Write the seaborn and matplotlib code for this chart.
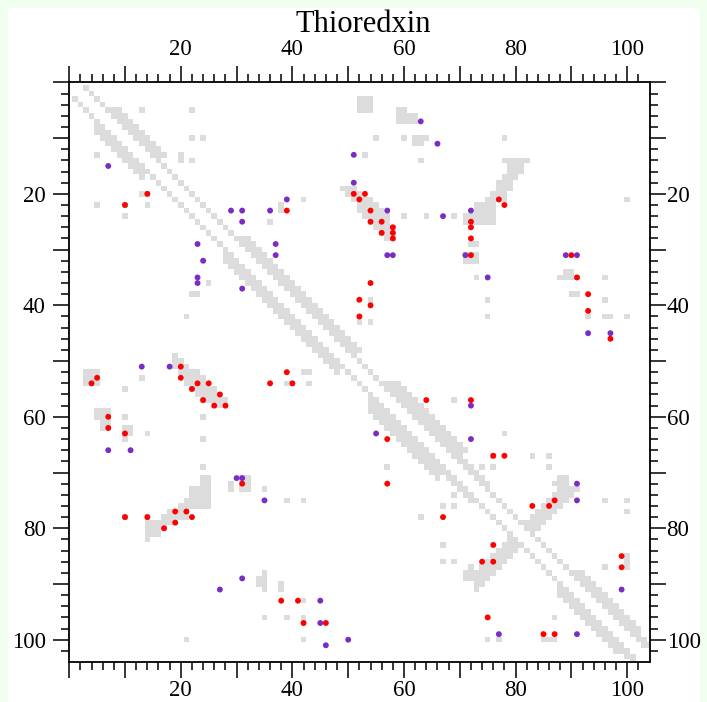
import numpy as np
import pandas as pd
import matplotlib
matplotlib.use("Agg")
import matplotlib.pyplot as plt
from matplotlib.colors import ListedColormap
from matplotlib.ticker import FixedLocator
import seaborn as sns

TITLE = "Thioredxin"
N_AXIS = 104                      # residue axis extent
TICK_LABELS = [20, 40, 60, 80, 100]

# near-diagonal band of the contact map: rows i0..i1 contact i+dmin .. i+dmax
band_i0 = [1, 5, 14, 28, 49, 54, 59, 67, 73, 88, 99]
band_i1 = [4, 13, 27, 48, 53, 58, 66, 72, 87, 98, 101]
band_dmin = [2, 2, 2, 2, 2, 2, 2, 2, 2, 2, 2]
band_dmax = [2, 4, 2, 4, 2, 5, 5, 3, 2, 4, 3]

# other observed contacts (upper triangle), residues i0..i1 x j0..j1
blk_i0 = [3, 5, 5, 10, 10, 13, 14, 13, 10, 5, 6, 10, 10, 11, 14, 22, 24, 24, 24, 25, 21,
          14, 15, 17, 18, 20, 21, 22, 24, 10, 21, 29, 31, 35, 39, 42, 34, 35, 38, 35, 39,
          42, 42, 42, 57, 63, 67, 67, 67, 69, 69, 69, 71, 73, 75, 75, 77, 85, 87, 39, 40,
          42, 43, 22, 23, 72]
blk_i1 = [5, 5, 5, 10, 10, 14, 14, 13, 10, 7, 7, 10, 10, 11, 14, 22, 24, 24, 24, 25, 21,
          14, 16, 17, 19, 20, 21, 23, 25, 10, 21, 29, 32, 35, 39, 42, 34, 35, 38, 35, 39,
          42, 42, 42, 57, 63, 67, 67, 67, 69, 69, 69, 71, 73, 75, 75, 77, 87, 87, 39, 40,
          43, 43, 22, 23, 72]
blk_j0 = [52, 13, 22, 22, 24, 20, 22, 53, 55, 59, 61, 60, 62, 62, 63, 55, 60, 64, 69, 36, 42,
          78, 79, 78, 77, 76, 75, 73, 71, 78, 100, 72, 71, 73, 75, 75, 89, 88, 90, 96, 96,
          93, 96, 100, 69, 78, 76, 83, 86, 74, 76, 86, 88, 89, 96, 100, 100, 100, 96, 54, 54,
          52, 54, 38, 38, 87]
blk_j1 = [54, 13, 22, 22, 24, 20, 22, 53, 55, 60, 62, 60, 64, 63, 63, 55, 60, 64, 69, 36, 42,
          82, 81, 80, 79, 78, 78, 76, 76, 78, 100, 73, 73, 73, 75, 75, 90, 91, 91, 96, 96,
          93, 97, 100, 69, 78, 76, 83, 86, 74, 76, 86, 89, 89, 96, 100, 100, 100, 96, 54, 54,
          52, 54, 38, 38, 89]

# parallel strand pairing (i, j = i+off) and antiparallel hairpin (i + j = s)
par_i = [19, 20, 21, 22, 23, 24, 25, 26, 27, 28]
par_off_lo = [30, 30, 30, 30, 29, 29, 29, 29, 29, 29]
par_off_hi = [32, 32, 33, 33, 33, 33, 32, 32, 31, 30]
anti_i = [73, 74, 75, 76, 77, 78, 79, 80, 81]
anti_s_lo = [161, 161, 161, 161, 161, 161, 161, 161, 161]
anti_s_hi = [164, 164, 164, 164, 164, 164, 164, 164, 164]

# predicted contacts
red_x = [14, 10, 51, 53, 52, 39, 54, 77, 78, 54, 56, 58, 56, 58, 58, 72, 72, 72, 72, 90, 91,
         93, 93, 97, 54, 52, 54, 52, 20, 5, 20, 4, 23, 25, 22, 27, 24, 26, 28, 7, 7, 10, 31,
         39, 36, 40, 64, 57, 57, 72, 76, 78, 10, 14, 17, 19, 21, 19, 22, 67, 38, 41, 42, 46,
         87, 83, 86, 76, 74, 76, 99, 99, 75, 85, 87]
red_y = [20, 22, 20, 20, 21, 23, 23, 21, 22, 25, 25, 26, 27, 27, 28, 25, 26, 28, 31, 31, 35,
         38, 41, 46, 36, 39, 40, 42, 51, 53, 53, 54, 54, 54, 55, 56, 57, 58, 58, 60, 62, 63, 72,
         52, 54, 54, 57, 64, 72, 57, 67, 67, 78, 78, 80, 77, 77, 79, 78, 78, 93, 93, 97, 97,
         75, 76, 76, 83, 86, 86, 85, 87, 96, 99, 99]
purple_x = [7, 29, 31, 63, 66, 51, 51, 39, 36, 57, 72, 31, 23, 24, 23, 23, 31, 67, 37, 37, 57,
            58, 71, 89, 91, 75, 93, 97, 13, 18, 7, 11, 30, 31, 55, 72, 72, 91, 31, 27, 35, 45,
            45, 46, 50, 91, 99, 77, 91]
purple_y = [15, 23, 23, 7, 11, 13, 18, 21, 23, 23, 23, 25, 29, 32, 35, 36, 37, 24, 29, 31, 31,
            31, 31, 31, 31, 35, 45, 45, 51, 51, 66, 66, 71, 71, 63, 58, 64, 72, 89, 91, 75, 93,
            97, 101, 100, 75, 91, 99, 99]

# ---------------------------------------------------------------- build matrix
n = N_AXIS + 1
mat = np.zeros((n, n))


def add(i, j):
    if 0 <= i < n and 0 <= j < n:
        mat[i, j] = 1
        mat[j, i] = 1


for a, b, lo, hi in zip(band_i0, band_i1, band_dmin, band_dmax):
    for i in range(a, b + 1):
        for d in range(lo, hi + 1):
            add(i, i + d)
for a, b, c, d in zip(blk_i0, blk_i1, blk_j0, blk_j1):
    for i in range(a, b + 1):
        for j in range(c, d + 1):
            add(i, j)
for i, lo, hi in zip(par_i, par_off_lo, par_off_hi):
    for o in range(lo, hi + 1):
        add(i, i + o)
for i, lo, hi in zip(anti_i, anti_s_lo, anti_s_hi):
    for s in range(lo, hi + 1):
        j = s - i
        if j > i + 2:
            add(i, j)

df = pd.DataFrame(mat)

dots = pd.DataFrame({
    "x": np.array(red_x + purple_x) + 0.5,
    "y": np.array(red_y + purple_y) + 0.5,
    "kind": ["red"] * len(red_x) + ["purple"] * len(purple_x),
})

# ---------------------------------------------------------------- figure
W, H = 707, 702
FONT = "Liberation Serif"
LAB_SIZE = 16.5
fig = plt.figure(figsize=(W / 100, H / 100), dpi=100, facecolor="#f0fff0")
fig.patches.append(plt.Rectangle((8 / W, 0), (700 - 8) / W, (H - 8) / H,
                                 transform=fig.transFigure, facecolor="white",
                                 edgecolor="none", zorder=-10))
ax = fig.add_axes([69.2 / W, (H - 662) / H, 580.3 / W, 579.6 / H])

sns.heatmap(df, mask=(df == 0), cmap=ListedColormap(["#dcdcdc"]), vmin=0, vmax=1,
            cbar=False, ax=ax, xticklabels=False, yticklabels=False, linewidths=0)
sns.scatterplot(data=dots, x="x", y="y", hue="kind",
                palette={"red": "#ff0000", "purple": "#7b2cc4"},
                s=18, linewidth=0, legend=False, ax=ax, zorder=5)

ax.set_xlim(0.5, N_AXIS + 0.5)
ax.set_ylim(N_AXIS + 0.5, 0.5)
ax.set_xlabel("")
ax.set_ylabel("")
for name, s in ax.spines.items():
    s.set_visible(name in ("left", "bottom"))
    s.set_linewidth(1.3)
    s.set_color("black")

major = [v + 0.5 for v in range(0, 101, 10)]
minor = [v + 0.5 for v in range(0, 104, 2)]
labels = [str(v) if v in TICK_LABELS else "" for v in range(0, 101, 10)]

ident = (lambda v: v, lambda v: v)
top = ax.secondary_xaxis("top", functions=ident)
right = ax.secondary_yaxis("right", functions=ident)
for axis in (ax.xaxis, ax.yaxis, top.xaxis, right.yaxis):
    axis.set_major_locator(FixedLocator(major))
    axis.set_minor_locator(FixedLocator(minor))
ax.set_xticklabels(labels)
ax.set_yticklabels(labels)
top.set_xticklabels(labels)
right.set_yticklabels(labels)
top.spines["top"].set_linewidth(1.3)
right.spines["right"].set_linewidth(1.3)

ax.tick_params(which="both", direction="out", top=False, bottom=True, left=True, right=False,
               labeltop=False, labelbottom=True, labelleft=True, labelright=False,
               width=1.1, color="black")
ax.tick_params(which="major", length=11.5, labelsize=LAB_SIZE)
ax.tick_params(which="minor", length=5.8)
ax.tick_params(axis="x", which="major", pad=1.5)
ax.tick_params(axis="y", which="major", pad=5.5)
for sec, p in ((top, 4.3), (right, 0.8)):
    sec.tick_params(which="both", direction="out", width=1.1, color="black")
    sec.tick_params(which="major", length=11.5, labelsize=LAB_SIZE, pad=p)
    sec.tick_params(which="minor", length=5.8)
for lab in (ax.get_xticklabels() + ax.get_yticklabels() + top.get_xticklabels()
            + right.get_yticklabels()):
    lab.set_fontfamily(FONT)

fig.text(363 / W, 1 - 32 / H, TITLE, ha="center", va="baseline",
         fontsize=22, fontfamily=FONT)

fig.savefig("out.png", dpi=100, facecolor=fig.get_facecolor())
